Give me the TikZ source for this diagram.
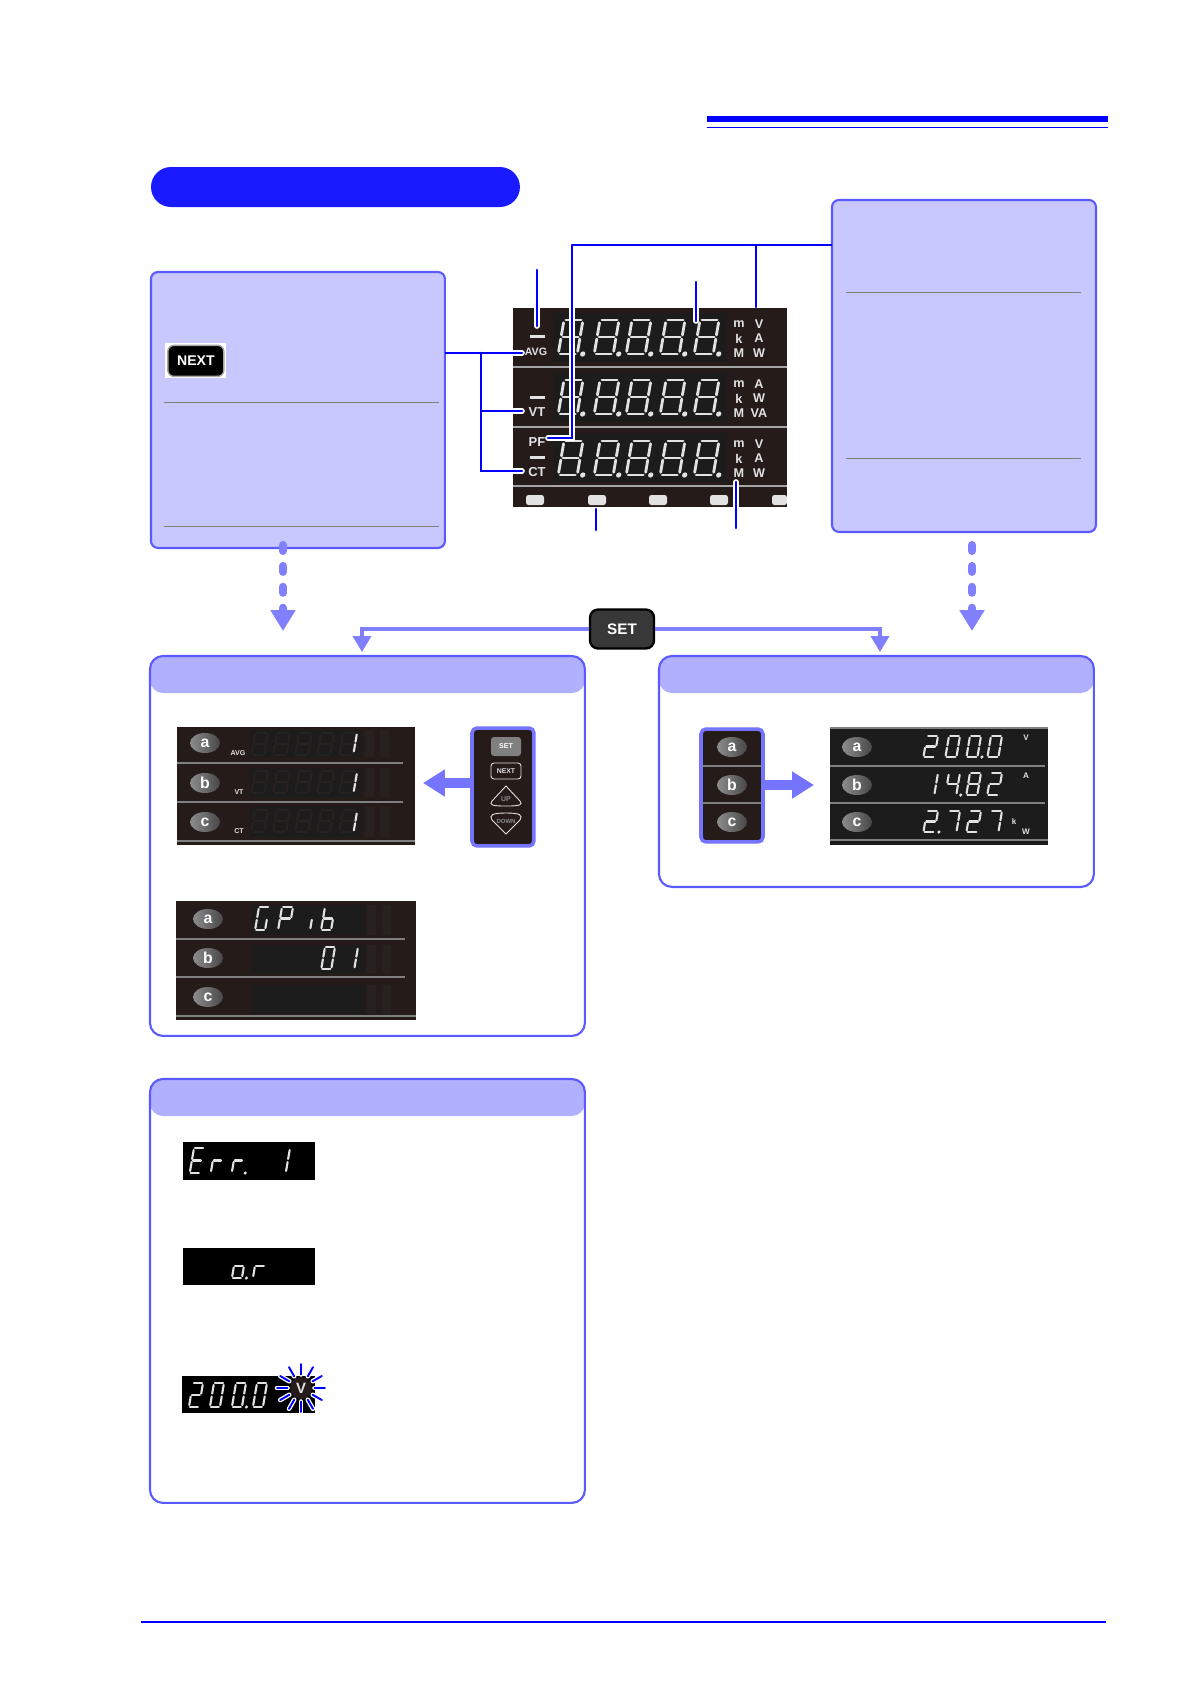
\documentclass[tikz,border=0pt]{standalone}
\usepackage{fontspec}
\setsansfont{Liberation Sans}
\usetikzlibrary{arrows.meta,shapes.geometric}
\definecolor{rulingblue}{HTML}{0000FF}
\definecolor{pillblue}{HTML}{1A1AFF}
\definecolor{boxline}{HTML}{5A5AFF}
\definecolor{boxfill}{HTML}{C8C8FF}
\definecolor{headfill}{HTML}{B0B0FF}
\definecolor{flowblue}{HTML}{8080FF}
\definecolor{keyline}{HTML}{7474FF}
\definecolor{lcdbody}{HTML}{251C1A}
\definecolor{lcdface}{HTML}{1C1C1C}
\definecolor{lcdghost}{HTML}{272120}
\definecolor{lcdseg}{HTML}{E2E2E2}
\definecolor{divider}{HTML}{808080}
\tikzset{
  lcdline/.style={line width=1.2pt, draw=lcdseg, fill=lcdseg, line cap=round},
  bigline/.style={lcdline, line width=1.6pt},
  leader/.style={rulingblue, line width=1.5pt, line cap=round},
  callout/.style={leader, preaction={draw=white, line width=3.2pt}},
  sheetbox/.style={draw=boxline, fill=boxfill, line width=1.2pt, rounded corners=0.14cm, anchor=north west, inner sep=0, outer sep=0},
  stepbox/.style={draw=boxline, line width=1.2pt, rounded corners=0.26cm, anchor=north west, inner sep=0, outer sep=0,
    path picture={\fill[headfill] (path picture bounding box.north west) rectangle ([yshift=-0.74cm]path picture bounding box.north east);}},
  lcdpanel/.style={fill=lcdbody, anchor=north west, inner sep=0, outer sep=0},
  keypanel/.style={lcdpanel, draw=keyline, line width=2pt, rounded corners=0.1cm},
  unit/.style={text=lcdseg, inner sep=0, font=\sffamily\bfseries\fontsize{7.2}{7.2}\selectfont},
  tag/.style={unit, font=\sffamily\bfseries\fontsize{7.4}{7.4}\selectfont},
  tiny/.style={unit, font=\sffamily\bfseries\fontsize{4}{4}\selectfont},
  ovalkey/.style={ellipse, inner sep=0, minimum width=0.6cm, minimum height=0.4cm, left color=black!45, right color=black!72, text=white, font=\sffamily\bfseries\fontsize{9}{9}\selectfont},
  dotflow/.style={flowblue, line width=4.6pt, line cap=round, dash pattern=on 3.4pt off 8.5pt, -{Triangle[width=13.6pt,length=11.9pt]}},
  setflow/.style={flowblue, line width=2pt, -{Triangle[width=10.2pt,length=9pt]}},
  keyflow/.style={keyline, line width=5.3pt, -{Triangle[width=14.7pt,length=12.5pt]}},
  faceblock/.style={fill=lcdface},
  ghost/.style={fill=lcdghost},
  rowline/.style={divider, line width=0.8pt, line cap=butt},
  sheetline/.style={divider, line width=0.55pt, line cap=butt}
}
\newcommand{\segmenta}{\draw[seg] (.1,0) -- (.9,0);}
\newcommand{\segmentb}{\draw[seg] (1,.08) -- (1,.44);}
\newcommand{\segmentc}{\draw[seg] (1,.56) -- (1,.92);}
\newcommand{\segmentd}{\draw[seg] (.1,1) -- (.9,1);}
\newcommand{\segmente}{\draw[seg] (0,.56) -- (0,.92);}
\newcommand{\segmentf}{\draw[seg] (0,.08) -- (0,.44);}
\newcommand{\segmentg}{\draw[seg] (.1,.5) -- (.9,.5);}
\newcommand{\segmentp}{\fill[lcdseg] (1,1) ++(0.09cm,0) circle (1pt);}
\newcommand{\segmentq}{\fill[lcdseg] (1,1) ++(0.11cm,0) circle (1.5pt);}
% x, y, width, height, style, segments
\newcommand{\lcddigit}[6]{
  \begin{scope}[shift={(#1,#2)}, x={#3*0.02cm}, y={-#4*0.02cm}, xslant=0.17, seg/.style={#5}]
    \foreach \sg in {#6} {\csname segment\sg\endcsname}
  \end{scope}
}
\begin{document}
\begin{tikzpicture}[x=0.02cm, y=-0.02cm, line cap=round]
  \useasboundingbox (0,0) rectangle (1191,1685);
  \fill[white] (0,0) rectangle (1191,1685);
  \draw[rulingblue, line width=3.5pt, line cap=butt] (707,119) -- (1108,119);
  \draw[rulingblue, line width=0.9pt, line cap=butt] (707,127.5) -- (1108,127.5);
  \draw[rulingblue, line width=1.2pt, line cap=butt] (141,1622) -- (1106,1622);
  \node[fill=pillblue, rounded corners=0.4cm, anchor=north west, inner sep=0, outer sep=0, minimum width=7.38cm, minimum height=0.8cm] (titlepill) at (151,167) {};

  \node[sheetbox, minimum width=5.88cm, minimum height=5.52cm] (nextbox) at (151,272) {};
  \node[fill=white, anchor=north west, inner sep=0, minimum width=1.22cm, minimum height=0.7cm] (nextback) at (165,343) {};
  \node[fill=black, draw=black!35, line width=0.8pt, rounded corners=0.12cm, text=white, inner sep=0, minimum width=1.12cm, minimum height=0.62cm, font=\sffamily\bfseries\fontsize{8}{8}\selectfont] (nextbtn) at (nextback.center) {NEXT};
  \draw[sheetline] (164,402) -- (439,402);
  \draw[sheetline] (164,526) -- (439,526);

  \node[sheetbox, minimum width=5.28cm, minimum height=6.64cm] (rangebox) at (832,200) {};
  \draw[sheetline] (846,292) -- (1081,292);
  \draw[sheetline] (846,458) -- (1081,458);

  \node[lcdpanel, minimum width=5.48cm, minimum height=3.98cm] (mainlcd) at (513,308) {};
  \foreach \yy in {313,373,433} \fill[faceblock] (553,\yy) rectangle (727,\yy+49);
  \foreach \yy in {367,427,486} \draw[black!35, line width=0.9pt, line cap=butt] (513,\yy) -- (787,\yy);
  \foreach \yy in {320,380,441} {
    \foreach \xx in {564,600,632,666,700} {
      \lcddigit{\xx}{\yy}{19}{34}{bigline}{a,b,c,d,e,f,g,q}
    }
  }
  \foreach \xx [count=\i] in {526,588,649,710} \fill[lcdseg, rounded corners=0.05cm] (\xx,495) rectangle (\xx+18,505);
  \fill[lcdseg, rounded corners=0.05cm] (772,495) -- (787,495) -- (787,505) -- (772,505) -- cycle;
  \foreach \yy in {336,397,457} \fill[lcdseg] (530,\yy-1.5) rectangle (545,\yy+1.5);
  \node[tag, font=\sffamily\bfseries\fontsize{6.1}{6.1}\selectfont] (avgtag) at (536,352) {AVG};
  \node[tag] (vttag) at (537,412) {VT};
  \node[tag] (pftag) at (537,442) {PF};
  \node[tag] (cttag) at (537,472) {CT};
  \foreach \pre/\yy in {a/324,b/384,c/444} {
    \node[unit] (m\pre) at (739,\yy) {m};
    \node[unit] (k\pre) at (739,\yy+14.5) {k};
    \node[unit] (M\pre) at (739,\yy+29) {M};
  }
  \node[unit] (va) at (759,324) {V};
  \node[unit] (aa) at (759,338.5) {A};
  \node[unit] (wa) at (759,353) {W};
  \node[unit] (ab) at (759,384) {A};
  \node[unit] (wb) at (759,398.5) {W};
  \node[unit] (vab) at (759,413) {VA};
  \node[unit] (vc) at (759,444) {V};
  \node[unit] (ac) at (759,458.5) {A};
  \node[unit] (wc) at (759,473) {W};

  \coordinate (avgend) at (522,353);
  \coordinate (vtend) at (522,411);
  \coordinate (ctend) at (522,471);
  \coordinate (fork) at (481,353);
  \draw[callout] (fork) -- (avgend) (fork) |- (vtend) (fork) |- (ctend);
  \draw[leader, line cap=butt] (nextbox.east |- avgend) -- (fork);
  \coordinate (dashtop) at (537,270);
  \coordinate (dashend) at (537,326);
  \draw[callout] (dashtop) -- (dashend);
  \coordinate (digittop) at (696,282);
  \coordinate (digitend) at (696,321);
  \draw[callout] (digittop) -- (digitend);
  \coordinate (pfelbow) at (572,245);
  \coordinate (pfend) at (548,438);
  \draw[callout] (pfelbow) |- (pfend);
  \coordinate (unitfork) at (756,245);
  \coordinate (unitend) at (756,307);
  \draw[leader] (unitfork) -- (unitend);
  \draw[leader, line cap=butt] (rangebox.west |- pfelbow) -- (pfelbow);
  \coordinate (keytop) at (596,509);
  \coordinate (keyend) at (596,530);
  \draw[leader] (keytop) -- (keyend);
  \coordinate (prefixtop) at (736,482);
  \coordinate (prefixend) at (736,528);
  \draw[callout] (prefixtop) -- (prefixend);

  \coordinate (leftdots) at (283,545);
  \coordinate (leftdotsend) at (283,631);
  \draw[dotflow] (leftdots) -- (leftdotsend);
  \coordinate (rightdots) at (972,545);
  \coordinate (rightdotsend) at (972,631);
  \draw[dotflow] (rightdots) -- (rightdotsend);

  \node[stepbox, minimum width=8.7cm, minimum height=7.6cm] (configbox) at (150,656) {};
  \node[stepbox, minimum width=8.7cm, minimum height=4.62cm] (runbox) at (659,656) {};
  \node[stepbox, minimum width=8.7cm, minimum height=8.48cm] (errorbox) at (150,1079) {};

  \node[fill=black!78, draw=black, line width=1.3pt, rounded corners=0.16cm, text=white, inner sep=0, minimum width=1.28cm, minimum height=0.78cm, font=\sffamily\bfseries\fontsize{8.7}{8.7}\selectfont] (setbtn) at (622,629) {SET};
  \coordinate (configend) at (362,652);
  \coordinate (runend) at (880,652);
  \draw[setflow, line cap=butt] (setbtn.west) -| (configend);
  \draw[setflow, line cap=butt] (setbtn.east) -| (runend);

  \node[lcdpanel, minimum width=4.76cm, minimum height=2.36cm] (idlcd) at (177,727) {};
  \foreach \yy/\hh in {730/27,768/29,807/30} {
    \fill[faceblock] (250,\yy) rectangle (362,\yy+\hh);
    \foreach \xx in {252,274,296,318,340} {
      \lcddigit{\xx+3}{\yy+3}{13}{22}{lcdline, draw=lcdghost, fill=lcdghost}{a,b,c,d,e,f,g}
    }
    \foreach \xx in {365,380} \fill[ghost] (\xx,\yy) rectangle (\xx+9,\yy+\hh);
  }
  \foreach \yy in {763,802} \draw[rowline] (177,\yy) -- (403,\yy);
  \draw[rowline] (177,841) -- (415,841);
  \foreach \k/\yy in {a/743,b/783,c/822} \node[ovalkey] (id\k) at (205,\yy) {\k};
  \node[tiny] (idavg) at (238,753) {AVG};
  \node[tiny] (idvt) at (239,792) {VT};
  \node[tiny] (idct) at (239,831) {CT};
  \foreach \yy in {733,772.5,812} {
    \lcddigit{347}{\yy}{10}{20}{lcdline}{b,c}
  }

  \node[keypanel, minimum width=1.24cm, minimum height=2.36cm] (modekeys) at (472,728) {};
  \node[fill=black!50, rounded corners=0.06cm, text=white, inner sep=0, minimum width=0.6cm, minimum height=0.38cm, font=\sffamily\bfseries\fontsize{4}{4}\selectfont] (setkey) at (506,746.5) {SET};
  \node[draw=lcdseg, line width=0.5pt, rounded corners=0.06cm, text=lcdseg, inner sep=0, minimum width=0.6cm, minimum height=0.32cm, font=\sffamily\bfseries\fontsize{3.9}{3.9}\selectfont] (nextkey) at (506,771) {NEXT};
  \draw[lcdseg, line width=0.5pt] (506,786) -- (492,801) .. controls (489,805) and (492,806) .. (506,806) .. controls (520,806) and (523,805) .. (520,801) -- cycle;
  \node[tiny, text=black!45] (upkey) at (506,799) {UP};
  \draw[lcdseg, line width=0.5pt] (506,834) -- (492,820) .. controls (489,815) and (492,813) .. (506,813) .. controls (520,813) and (523,815) .. (520,820) -- cycle;
  \node[tiny, text=black!45, font=\sffamily\bfseries\fontsize{3.4}{3.4}\selectfont] (downkey) at (506,821) {DOWN};
  \coordinate (toidlcd) at (423,783);
  \draw[keyflow, line cap=butt] (modekeys.west |- toidlcd) -- (toidlcd);

  \node[lcdpanel, minimum width=4.8cm, minimum height=2.38cm] (gpiblcd) at (176,901) {};
  \foreach \yy/\hh in {905/30,945/28,985/29} {
    \fill[faceblock] (252,\yy) rectangle (365,\yy+\hh);
    \foreach \xx in {367,382} \fill[ghost] (\xx,\yy) rectangle (\xx+9,\yy+\hh);
  }
  \foreach \yy in {939,977} \draw[rowline] (176,\yy) -- (405,\yy);
  \draw[rowline] (176,1016) -- (416,1016);
  \foreach \k/\yy in {a/919,b/958,c/997} \node[ovalkey] (gpib\k) at (208,\yy) {\k};
  \lcddigit{259}{907}{10}{23}{lcdline}{a,f,e,d,c}
  \lcddigit{282}{907}{11}{23}{lcdline}{a,b,f,g,e}
  \lcddigit{314}{907}{10}{23}{lcdline}{e}
  \lcddigit{325}{907}{10}{23}{lcdline}{f,e,d,c,g}
  \lcddigit{325}{947}{10}{22}{lcdline}{a,b,c,d,e,f}
  \lcddigit{348}{947}{10}{22}{lcdline}{b,c}

  \node[keypanel, minimum width=1.24cm, minimum height=2.26cm] (runkeys) at (701,729) {};
  \foreach \yy in {766,803} \draw[rowline] (702,\yy) -- (762,\yy);
  \foreach \k/\yy in {a/747,b/785,c/822} \node[ovalkey] (key\k) at (732,\yy) {\k};
  \coordinate (torunlcd) at (814,785);
  \draw[keyflow, line cap=butt] (runkeys.east |- torunlcd) -- (torunlcd);

  \node[lcdpanel, fill=lcdface!90!lcdbody, minimum width=4.36cm, minimum height=2.34cm] (runlcd) at (830,728) {};
  \draw[rowline] (830,728) -- (1048,728);
  \foreach \yy in {766,803} \draw[rowline] (830,\yy) -- (1045,\yy);
  \draw[rowline] (830,840) -- (1048,840);
  \foreach \k/\yy in {a/747,b/785,c/822} \node[ovalkey] (run\k) at (857,\yy) {\k};
  \lcddigit{927}{736}{11}{21}{lcdline}{a,b,g,e,d}
  \lcddigit{949}{736}{11}{21}{lcdline}{a,b,c,d,e,f}
  \lcddigit{970}{736}{11}{21}{lcdline}{a,b,c,d,e,f,p}
  \lcddigit{991}{736}{11}{21}{lcdline}{a,b,c,d,e,f}
  \lcddigit{927}{773}{11}{22}{lcdline}{b,c}
  \lcddigit{949}{773}{11}{22}{lcdline}{f,g,b,c,p}
  \lcddigit{970}{773}{11}{22}{lcdline}{a,b,c,d,e,f,g}
  \lcddigit{991}{773}{11}{22}{lcdline}{a,b,g,e,d}
  \lcddigit{927}{811}{11}{21}{lcdline}{a,b,g,e,d,p}
  \lcddigit{949}{811}{11}{21}{lcdline}{a,b,c}
  \lcddigit{970}{811}{11}{21}{lcdline}{a,b,g,e,d}
  \lcddigit{991}{811}{11}{21}{lcdline}{a,b,c}
  \node[tiny, font=\sffamily\bfseries\fontsize{4.6}{4.6}\selectfont] (runv) at (1026,738) {V};
  \node[tiny, font=\sffamily\bfseries\fontsize{4.6}{4.6}\selectfont] (runa) at (1026,776) {A};
  \node[tiny, font=\sffamily\bfseries\fontsize{4.6}{4.6}\selectfont] (runk) at (1014,822) {k};
  \node[tiny, font=\sffamily\bfseries\fontsize{4.6}{4.6}\selectfont] (runw) at (1026,832) {W};

  \node[lcdpanel, fill=black, minimum width=2.64cm, minimum height=0.76cm] (errdisp) at (183,1142) {};
  \lcddigit{194}{1148}{10}{25}{lcdline}{a,f,g,e,d}
  \lcddigit{215}{1148}{9}{25}{lcdline}{g,e}
  \lcddigit{236}{1148}{9}{25}{lcdline}{g,e,p}
  \lcddigit{280}{1148}{10}{25}{lcdline}{b,c}
  \node[lcdpanel, fill=black, minimum width=2.64cm, minimum height=0.74cm] (overdisp) at (183,1248) {};
  \lcddigit{236}{1254}{10}{24}{lcdline}{g,c,d,e,p}
  \lcddigit{257}{1254}{10}{24}{lcdline}{g,e}
  \node[lcdpanel, fill=black, minimum width=2.66cm, minimum height=0.74cm] (flashdisp) at (182,1376) {};
  \lcddigit{193}{1383}{10}{24}{lcdline}{a,b,g,e,d}
  \lcddigit{214}{1383}{10}{24}{lcdline}{a,b,c,d,e,f}
  \lcddigit{236}{1383}{10}{24}{lcdline}{a,b,c,d,e,f,p}
  \lcddigit{257}{1383}{10}{24}{lcdline}{a,b,c,d,e,f}
  \node[circle, fill=lcdbody, text=lcdseg, inner sep=0, minimum size=0.44cm, font=\sffamily\bfseries\fontsize{8.5}{8.5}\selectfont] (flashv) at (301,1388) {V};
  \foreach \a in {0,30,...,330} {
    \draw[leader, line width=1.1pt, preaction={draw=white, line width=2.6pt}] (flashv.center) ++(\a:13.5) -- ++(\a:10.5);
  }
\end{tikzpicture}
\end{document}
